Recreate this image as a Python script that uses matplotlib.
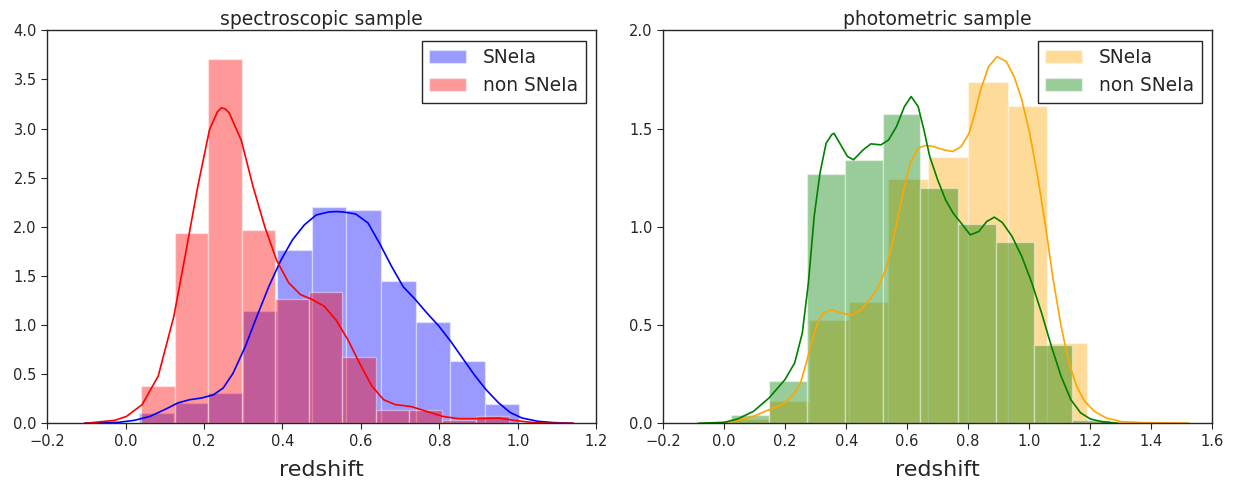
import matplotlib
matplotlib.use("Agg")
import matplotlib.pyplot as plt
from matplotlib.ticker import FuncFormatter
import numpy as np

# ── spectroscopic sample: histogram bars (density) ───────────────────────────
spec_ia_edges = [0.034, 1.004]
spec_ia_heights = [0.10, 0.21, 0.31, 1.14, 1.76, 2.20, 2.17, 1.45, 1.03, 0.63, 0.20]
spec_non_edges = [0.040, 0.979]
spec_non_heights = [0.38, 1.94, 3.71, 1.97, 1.27, 1.34, 0.67, 0.14, 0.14, 0.03, 0.075]

# KDE curves
spec_ia_kde_x = [-0.104, -0.018, 0.022, 0.062, 0.103, 0.133, 0.163, 0.194, 0.224, 0.249,
                 0.274, 0.305, 0.335, 0.365, 0.396, 0.426, 0.456, 0.486, 0.517, 0.537,
                 0.557, 0.587, 0.618, 0.648, 0.678, 0.708, 0.739, 0.769, 0.799, 0.830,
                 0.860, 0.890, 0.920, 0.951, 0.981, 1.011, 1.052, 1.092, 1.142]
spec_ia_kde_y = [0.0, 0.01, 0.03, 0.07, 0.146, 0.207, 0.24, 0.258, 0.29, 0.36,
                 0.51, 0.78, 1.09, 1.39, 1.66, 1.87, 2.02, 2.12, 2.15, 2.155,
                 2.15, 2.13, 2.04, 1.83, 1.60, 1.39, 1.26, 1.12, 0.99, 0.83,
                 0.66, 0.49, 0.34, 0.21, 0.11, 0.054, 0.02, 0.007, 0.0]
spec_non_kde_x = [-0.104, -0.028, 0.002, 0.042, 0.083, 0.123, 0.153, 0.184, 0.214, 0.234,
                  0.244, 0.254, 0.264, 0.295, 0.325, 0.355, 0.385, 0.416, 0.446, 0.476,
                  0.507, 0.537, 0.567, 0.597, 0.628, 0.658, 0.688, 0.729, 0.769, 0.809,
                  0.850, 0.890, 0.951, 0.991, 1.04, 1.09, 1.14]
spec_non_kde_y = [0.0, 0.03, 0.07, 0.19, 0.48, 1.09, 1.73, 2.41, 2.99, 3.17,
                  3.21, 3.20, 3.16, 2.88, 2.41, 2.00, 1.66, 1.43, 1.31, 1.26,
                  1.19, 1.05, 0.85, 0.61, 0.38, 0.24, 0.19, 0.17, 0.12, 0.07,
                  0.047, 0.047, 0.054, 0.03, 0.007, 0.0, 0.0]

# ── photometric sample ───────────────────────────────────────────────────────
phot_ia_edges = [0.017, 1.321]
phot_ia_heights = [0.022, 0.115, 0.527, 0.615, 1.244, 1.356, 1.737, 1.615, 0.41, 0.01]
phot_non_edges = [0.022, 1.265]
phot_non_heights = [0.044, 0.217, 1.269, 1.341, 1.575, 1.198, 1.014, 0.925, 0.397, 0.019]

phot_ia_kde_x = [-0.084, 0.0, 0.044, 0.096, 0.147, 0.199, 0.231, 0.250, 0.269, 0.289,
                 0.308, 0.327, 0.353, 0.379, 0.417, 0.449, 0.481, 0.507, 0.533, 0.559,
                 0.584, 0.610, 0.636, 0.661, 0.687, 0.719, 0.749, 0.777, 0.803, 0.822,
                 0.841, 0.867, 0.895, 0.925, 0.951, 0.976, 1.002, 1.028, 1.054, 1.079,
                 1.105, 1.131, 1.156, 1.182, 1.214, 1.253, 1.304, 1.381, 1.523]
phot_ia_kde_y = [0.0, 0.003, 0.014, 0.036, 0.069, 0.103, 0.154, 0.205, 0.307, 0.425,
                 0.519, 0.564, 0.578, 0.564, 0.549, 0.578, 0.637, 0.697, 0.798, 0.968,
                 1.154, 1.324, 1.400, 1.414, 1.408, 1.392, 1.383, 1.408, 1.476, 1.578,
                 1.697, 1.815, 1.866, 1.841, 1.764, 1.646, 1.476, 1.256, 1.002, 0.731,
                 0.493, 0.307, 0.188, 0.112, 0.061, 0.027, 0.008, 0.003, 0.001]
phot_non_kde_x = [-0.084, 0.0, 0.044, 0.096, 0.147, 0.199, 0.231, 0.256, 0.276, 0.295,
                  0.314, 0.334, 0.353, 0.360, 0.379, 0.404, 0.424, 0.456, 0.481, 0.514,
                  0.539, 0.565, 0.591, 0.613, 0.636, 0.655, 0.674, 0.700, 0.726, 0.751,
                  0.777, 0.807, 0.835, 0.861, 0.886, 0.912, 0.944, 0.976, 1.009, 1.041,
                  1.073, 1.105, 1.137, 1.169, 1.201, 1.240, 1.291]
phot_non_kde_y = [0.0, 0.005, 0.022, 0.061, 0.129, 0.222, 0.307, 0.459, 0.714, 1.053,
                  1.273, 1.425, 1.470, 1.476, 1.425, 1.358, 1.341, 1.392, 1.422, 1.417,
                  1.442, 1.510, 1.612, 1.663, 1.612, 1.493, 1.358, 1.239, 1.137, 1.069,
                  1.019, 0.959, 0.976, 1.027, 1.049, 1.022, 0.951, 0.849, 0.714, 0.561,
                  0.392, 0.239, 0.120, 0.053, 0.022, 0.008, 0.0]

TEXT = "#262626"
plt.rcParams.update({
    "font.family": ["DejaVu Sans"],
    "axes.edgecolor": TEXT,
    "axes.linewidth": 1.0,
    "xtick.color": TEXT,
    "ytick.color": TEXT,
    "xtick.direction": "out",
    "ytick.direction": "out",
    "xtick.major.size": 4,
    "ytick.major.size": 4,
    "xtick.labelsize": 10.5,
    "ytick.labelsize": 10.5,
})

fmt = FuncFormatter(lambda v, _: f"{v:.1f}".replace("-", "\u2212"))


def draw_hist(ax, edges, heights, color):
    n = len(heights)
    w = (edges[1] - edges[0]) / n
    lefts = edges[0] + w * np.arange(n)
    ax.bar(lefts, heights, width=w, align="edge", color=color, alpha=0.4,
           edgecolor="white", linewidth=1.0)


def style(ax, title, xlim, ylim, xticks, yticks):
    ax.set_xlim(*xlim)
    ax.set_ylim(*ylim)
    ax.set_xticks(xticks)
    ax.set_yticks(yticks)
    ax.xaxis.set_major_formatter(fmt)
    ax.yaxis.set_major_formatter(fmt)
    ax.tick_params(top=False, right=False)
    ax.set_title(title, fontsize=13.5, color=TEXT, pad=4)
    ax.set_xlabel("redshift", fontsize=16, color=TEXT, labelpad=8)
    leg = ax.legend(loc="upper right", fontsize=13.4, fancybox=False, framealpha=1,
                    edgecolor=TEXT, handletextpad=0.9, handlelength=2.0,
                    labelspacing=0.5, borderaxespad=0.55)
    leg.get_frame().set_linewidth(1.0)
    for t in leg.get_texts():
        t.set_color(TEXT)


fig = plt.figure(figsize=(12.34, 4.83), dpi=100)
ax1 = fig.add_axes([0.0383, 0.1236, 0.4447, 0.8137])
ax2 = fig.add_axes([0.5375, 0.1236, 0.4447, 0.8137])

# left: spectroscopic
draw_hist(ax1, spec_ia_edges, spec_ia_heights, "blue")
ax1.plot(spec_ia_kde_x, spec_ia_kde_y, color="blue", lw=1.2)
draw_hist(ax1, spec_non_edges, spec_non_heights, "red")
ax1.plot(spec_non_kde_x, spec_non_kde_y, color="red", lw=1.2)
ax1.containers[0].set_label("SNeIa")
ax1.containers[1].set_label("non SNeIa")
style(ax1, "spectroscopic sample", (-0.2, 1.2), (0, 4.0),
      np.arange(-0.2, 1.21, 0.2), np.arange(0, 4.01, 0.5))

# right: photometric
draw_hist(ax2, phot_ia_edges, phot_ia_heights, "orange")
ax2.plot(phot_ia_kde_x, phot_ia_kde_y, color="orange", lw=1.2)
draw_hist(ax2, phot_non_edges, phot_non_heights, "green")
ax2.plot(phot_non_kde_x, phot_non_kde_y, color="green", lw=1.2)
ax2.containers[0].set_label("SNeIa")
ax2.containers[1].set_label("non SNeIa")
style(ax2, "photometric sample", (-0.2, 1.6), (0, 2.0),
      np.arange(-0.2, 1.61, 0.2), np.arange(0, 2.01, 0.5))

fig.savefig("out.png", dpi=100)
